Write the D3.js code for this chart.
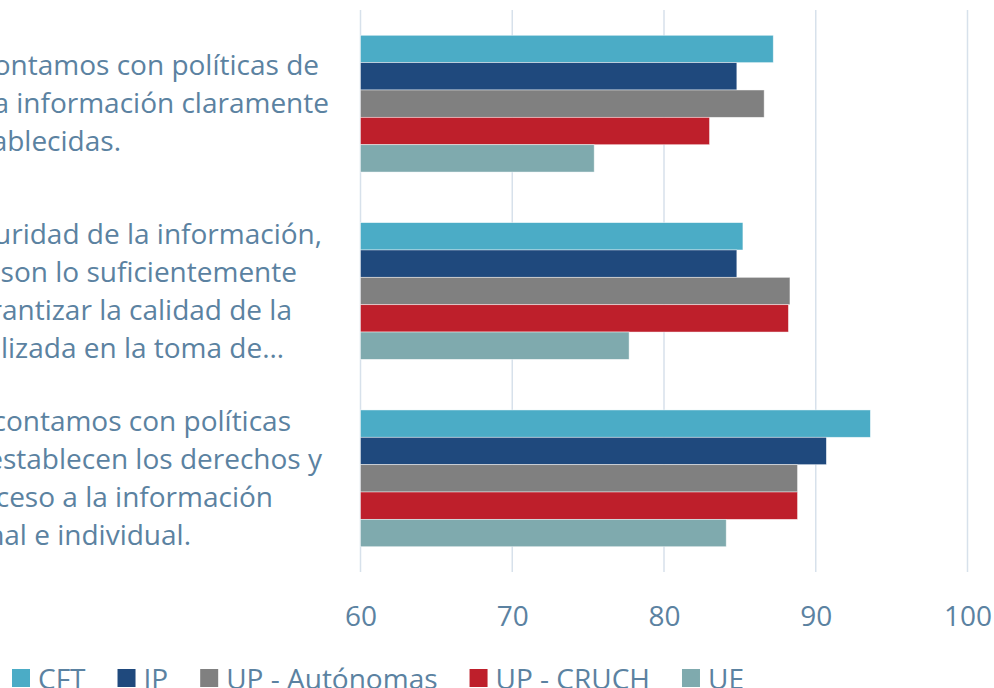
<!DOCTYPE html>
<html>
<head>
<meta charset="utf-8">
<script src="https://cdn.jsdelivr.net/npm/d3@7"></script>
<style>
  body { margin: 0; background: #ffffff; overflow: hidden; }
  text { font-family: "Open Sans", "Noto Sans", sans-serif; }
</style>
</head>
<body>
<script>
// data
var categories = ["seguridad", "suficiencia", "acceso"];
var categoryLines = [
    ["contamos con políticas de", "la información claramente", "establecidas."],
    ["seguridad de la información,", "son lo suficientemente", "garantizar la calidad de la", "utilizada en la toma de…"],
    ["contamos con políticas", "establecen los derechos y", "acceso a la información", "personal e individual."]
];
// right edge of each label line (the labels are cut by the left border)
var lineEnds = [
    [319, 329, 121],
    [322, 297, 292, 284],
    [291, 322, 273, 191]
];
var seriesNames = ["CFT", "IP", "UP - Autónomas", "UP - CRUCH", "UE"];
var seriesColors = ["#4bacc6", "#1f497d", "#808080", "#be1f2b", "#7faaae"];
var cftValues    = [87.2, 85.2, 93.6];
var ipValues     = [84.8, 84.8, 90.7];
var autValues    = [86.6, 88.3, 88.8];
var cruchValues  = [83.0, 88.2, 88.8];
var ueValues     = [75.4, 77.7, 84.1];
var tickValues   = [60, 70, 80, 90, 100];

var seriesValues = [cftValues, ipValues, autValues, cruchValues, ueValues];

var width = 994, height = 688;
var textColor = "#5b82a1";
var fontSize = "28px";

var svg = d3.select("body")
    .append("svg")
    .attr("width", width)
    .attr("height", height);

// ---------------------------------------------------------------- scales
var x = d3.scaleLinear()
    .domain([60, 100])
    .range([360.5, 967.5]);

var y = d3.scaleBand()
    .domain(categories)
    .range([10, 572])
    .paddingInner(0.27)
    .paddingOuter(0.135);

var ySeries = d3.scaleBand()
    .domain(seriesNames)
    .range([0, y.bandwidth()]);

// ---------------------------------------------------------------- grid
svg.append("g")
    .selectAll("line")
    .data(tickValues)
    .enter()
    .append("line")
    .attr("x1", function(d) { return x(d); })
    .attr("x2", function(d) { return x(d); })
    .attr("y1", 10)
    .attr("y2", 572)
    .attr("stroke", "#d7e1eb")
    .attr("stroke-width", 1.5);

// ---------------------------------------------------------------- bars
var rows = [];
categories.forEach(function(c, i) {
    seriesNames.forEach(function(s, j) {
        rows.push({ cat: c, series: s, value: seriesValues[j][i], color: seriesColors[j] });
    });
});

svg.append("g")
    .selectAll("rect")
    .data(rows)
    .enter()
    .append("rect")
    .attr("x", x(60))
    .attr("y", function(d) { return y(d.cat) + ySeries(d.series); })
    .attr("width", function(d) { return x(d.value) - x(60); })
    .attr("height", ySeries.bandwidth())
    .attr("fill", function(d) { return d.color; })
    .attr("stroke", "#ffffff")
    .attr("stroke-opacity", 0.6)
    .attr("stroke-width", 0.75);

// ---------------------------------------------------------------- x axis
var xAxis = svg.append("g")
    .attr("transform", "translate(0,606)")
    .call(d3.axisBottom(x).tickValues(tickValues).tickSize(0).tickPadding(0));

xAxis.select(".domain").remove();
xAxis.selectAll("text")
    .attr("dy", "0.71em")
    .attr("fill", textColor)
    .style("font-size", fontSize)
    .style("font-family", "'Open Sans', sans-serif");

// ---------------------------------------------------------------- category labels
var lineGap = 38;
categories.forEach(function(c, i) {
    var lines = categoryLines[i];
    var mid = y(c) + y.bandwidth() / 2;
    var first = mid - (lines.length - 1) * lineGap / 2;
    lines.forEach(function(t, k) {
        svg.append("text")
            .text(t)
            .attr("x", lineEnds[i][k])
            .attr("y", first + k * lineGap)
            .attr("dy", "0.35em")
            .attr("text-anchor", "end")
            .attr("fill", textColor)
            .style("font-size", fontSize);
    });
});

// ---------------------------------------------------------------- legend
var legend = svg.append("g").attr("transform", "translate(12,678)");
var lx = 0;
seriesNames.forEach(function(s, j) {
    legend.append("rect")
        .attr("x", lx)
        .attr("y", -9)
        .attr("width", 18)
        .attr("height", 18)
        .attr("fill", seriesColors[j]);
    var label = legend.append("text")
        .text(s)
        .attr("x", lx + 26)
        .attr("y", 0)
        .attr("dy", "0.38em")
        .attr("fill", textColor)
        .style("font-size", fontSize);
    lx += 26 + label.node().getComputedTextLength() + 32;
});
</script>
</body>
</html>
